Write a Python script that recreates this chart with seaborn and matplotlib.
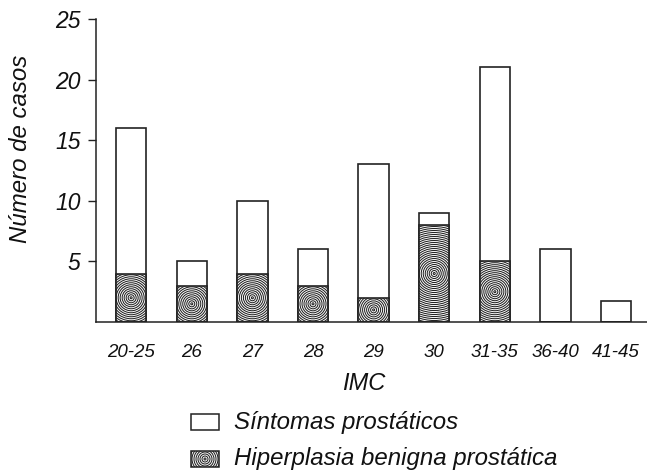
import numpy as np
import pandas as pd
import matplotlib
matplotlib.use("Agg")
import matplotlib.pyplot as plt
import seaborn as sns
from matplotlib.patches import Circle, Rectangle
from matplotlib.transforms import IdentityTransform

# data
imc = ["20-25", "26", "27", "28", "29", "30", "31-35", "36-40", "41-45"]
sintomas = [16, 5, 10, 6, 13, 9, 21, 6, 1.75]
hiperplasia = [4, 3, 4, 3, 2, 8, 5, 0, 0]
yticks = [5, 10, 15, 20, 25]
legend_labels = ["Síntomas prostáticos", "Hiperplasia benigna prostática"]

sns.set_style("ticks")
plt.rcParams["font.family"] = ["Liberation Sans", "DejaVu Sans"]
plt.rcParams["font.style"] = "italic"

W, H = 647, 474
df = pd.DataFrame({"imc": imc, "sintomas": sintomas, "hiperplasia": hiperplasia})

fig = plt.figure(figsize=(W / 100, H / 100), dpi=100)
ax = fig.add_axes([96 / W, 1 - 322 / H, 1 - 96 / W, (322 - 19) / H])

edge = "#222222"
sns.barplot(data=df, x="imc", y="sintomas", color="white", edgecolor=edge,
            linewidth=1.2, width=0.5, saturation=1, ax=ax)
sns.barplot(data=df, x="imc", y="hiperplasia", color="white", edgecolor=edge,
            linewidth=1.2, width=0.5, saturation=1, ax=ax)

ax.set_xlim(-0.58, 8.51)
ax.set_ylim(0, 25)
ax.set_yticks(yticks)
ax.tick_params(axis="y", length=6, width=1, labelsize=16.5, pad=5, color=edge,
               labelcolor="#111111")
ax.tick_params(axis="x", length=0, labelsize=13.5, pad=16, labelcolor="#111111")
for s in ["top", "right"]:
    ax.spines[s].set_visible(False)
for s in ["left", "bottom"]:
    ax.spines[s].set_linewidth(1.1)
    ax.spines[s].set_color(edge)

ax.set_ylabel("Número de casos", fontsize=17.3, color="#111111")
ax.yaxis.set_label_coords(-0.116, 0.57)
ax.set_xlabel("IMC", fontsize=17, color="#111111")
ax.xaxis.set_label_coords(0.486, -0.165)


def concentric(patch, step=2.0):
    # ring pattern inside a bar, drawn in pixel units
    bb = patch.get_window_extent()
    cx, cy = (bb.x0 + bb.x1) / 2, (bb.y0 + bb.y1) / 2
    rmax = np.hypot(bb.width / 2, bb.height / 2)
    for r in np.arange(1.0, rmax, step):
        c = Circle((cx, cy), r, transform=IdentityTransform(), fill=False,
                   lw=0.75, ec=edge)
        c.set_clip_path(patch)
        fig.add_artist(c)


for p in ax.containers[1].patches:
    if p.get_height() > 0:
        concentric(p)

# legend drawn by hand
for i, lab in enumerate(legend_labels):
    y0 = 414 + i * 37
    box = Rectangle((191 / W, 1 - (y0 + 16) / H), 28 / W, 16 / H,
                    transform=fig.transFigure, facecolor="white",
                    edgecolor=edge, lw=1.1)
    fig.add_artist(box)
    if i == 1:
        concentric(box)
    fig.text(234 / W, 1 - (y0 + 8) / H, lab, fontsize=17.3, va="center",
             ha="left", color="#111111")

fig.savefig("out.png", dpi=100)
